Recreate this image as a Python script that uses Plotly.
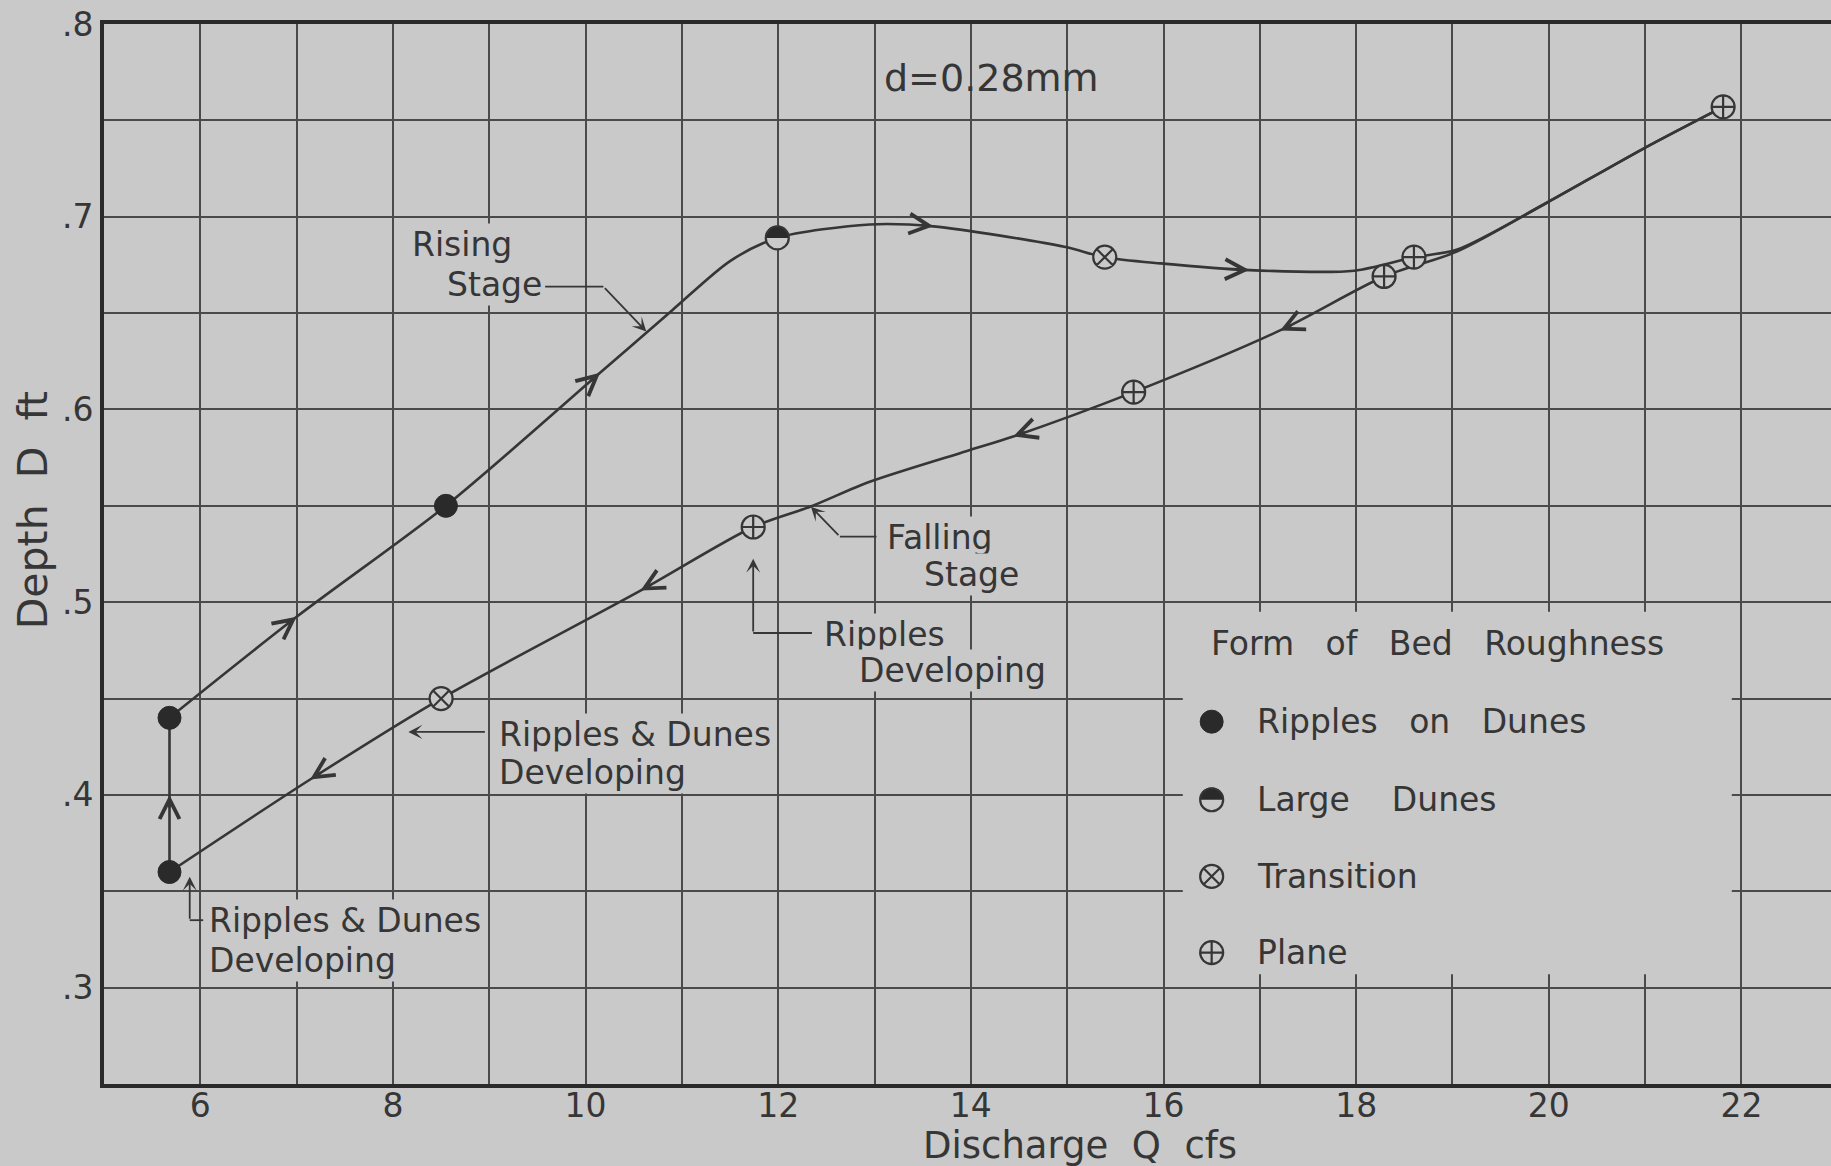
import math
import plotly.graph_objects as go

# ---------------- data ----------------
# Rising stage: vertical jump at the start, then the smooth rising curve
VERT_Q = [5.68, 5.68, 5.68]
VERT_D = [0.36, 0.40, 0.44]

RISE_Q = [5.68, 7.00, 8.55, 10.15, 10.90, 11.50, 11.99, 12.95, 13.61,
          14.97, 15.39, 15.97, 16.89, 17.98, 18.60, 19.05, 19.97, 20.97, 21.81]
RISE_D = [0.44, 0.4924, 0.55, 0.619, 0.6515, 0.677, 0.689, 0.696, 0.695,
          0.6844, 0.679, 0.6758, 0.6723, 0.672, 0.679, 0.683, 0.707, 0.735, 0.757]

# Falling stage (from the peak back to the start)
FALL_Q = [21.81, 20.97, 19.97, 19.05, 18.29, 17.21, 15.69, 14.44, 13.96, 12.95,
          12.33, 11.74, 10.57, 8.50, 7.14, 5.68]
FALL_D = [0.757, 0.735, 0.707, 0.682, 0.669, 0.641, 0.609, 0.586, 0.5785, 0.5625,
          0.5495, 0.539, 0.506, 0.45, 0.408, 0.36]

# indices of the points that carry a direction arrow
VERT_ARROWS = [1]
RISE_ARROWS = [1, 3, 8, 12]
FALL_ARROWS = [5, 7, 12, 14]

# bed-form observations
RIPPLES_ON_DUNES_Q = [5.68, 5.68, 8.55]
RIPPLES_ON_DUNES_D = [0.36, 0.44, 0.55]
LARGE_DUNES_Q = [11.99]
LARGE_DUNES_D = [0.689]
TRANSITION_Q = [8.50, 15.39]
TRANSITION_D = [0.45, 0.679]
PLANE_Q = [11.74, 15.69, 18.29, 18.60, 21.81]
PLANE_D = [0.539, 0.609, 0.669, 0.679, 0.757]

X_TICKS = [6, 8, 10, 12, 14, 16, 18, 20, 22]
Y_TICKS = [0.3, 0.4, 0.5, 0.6, 0.7, 0.8]
Y_TICK_TEXT = [".3", ".4", ".5", ".6", ".7", ".8"]

LEGEND_LABELS = ["Ripples\u00a0\u00a0\u00a0on\u00a0\u00a0\u00a0Dunes",
                 "Large\u00a0\u00a0\u00a0\u00a0Dunes",
                 "Transition",
                 "Plane"]

# ---------------- style / layout ----------------
W, H = 1831, 1166
ML, MT, MB, MR = 104, 24, 82, 0
X_RANGE = [5, 22.93]
Y_RANGE = [0.25, 0.8]
PXX = (W - ML - MR) / (X_RANGE[1] - X_RANGE[0])   # pixels per x unit
PXY = (H - MT - MB) / (Y_RANGE[1] - Y_RANGE[0])   # pixels per y unit

BG = "#c9c9c9"
INK = "#363636"
GRID = "#4a4a4a"
FONT = "DejaVu Sans"
FS = 33
MS = 23          # marker size
LW = 2.6         # curve width

# legend block placement (x, y in data units)
LEG_SYM_X = 16.50
LEG_TEXT_X = 16.95
LEG_ROWS_Y = [0.438, 0.3975, 0.3577, 0.3182]
LEG_TITLE_Y = 0.4785

fig = go.Figure()

fig.add_trace(go.Scatter(x=VERT_Q, y=VERT_D, mode="lines",
                         line=dict(color=INK, width=LW),
                         hoverinfo="skip", showlegend=False))
fig.add_trace(go.Scatter(x=RISE_Q, y=RISE_D, mode="lines",
                         line=dict(color=INK, width=LW, shape="spline", smoothing=0.8),
                         hoverinfo="skip", showlegend=False))
fig.add_trace(go.Scatter(x=FALL_Q, y=FALL_D, mode="lines",
                         line=dict(color=INK, width=LW, shape="spline", smoothing=0.8),
                         hoverinfo="skip", showlegend=False))


def half_filled(cx_list, cy_list):
    # background-filled circle with dark outline, upper half blackened
    fig.add_trace(go.Scatter(x=cx_list, y=cy_list, mode="markers",
                             marker=dict(symbol="circle", size=MS, color=BG,
                                         line=dict(color=INK, width=2.2)),
                             hoverinfo="skip", showlegend=False))
    r = MS / 2.0
    for cx, cy in zip(cx_list, cy_list):
        px, py = [], []
        for k in range(0, 41):
            t = math.pi * k / 40
            px.append(cx + r * math.cos(t) / PXX)
            py.append(cy + r * math.sin(t) / PXY)
        fig.add_trace(go.Scatter(x=px, y=py, mode="lines", fill="toself",
                                 fillcolor="#2a2a2a", line=dict(color=INK, width=1.5),
                                 hoverinfo="skip", showlegend=False))


def solid(xs, ys):
    fig.add_trace(go.Scatter(x=xs, y=ys, mode="markers",
                             marker=dict(symbol="circle", size=MS, color="#2a2a2a",
                                         line=dict(color="#2a2a2a", width=1)),
                             hoverinfo="skip", showlegend=False))


def crossed(xs, ys, sym):
    fig.add_trace(go.Scatter(x=xs, y=ys, mode="markers",
                             marker=dict(symbol=sym, size=MS, color=BG,
                                         line=dict(color=INK, width=2.2)),
                             hoverinfo="skip", showlegend=False))


solid(RIPPLES_ON_DUNES_Q, RIPPLES_ON_DUNES_D)
half_filled(LARGE_DUNES_Q, LARGE_DUNES_D)
crossed(TRANSITION_Q, TRANSITION_D, "circle-x")
crossed(PLANE_Q, PLANE_D, "circle-cross")

# legend symbols
solid([LEG_SYM_X], [LEG_ROWS_Y[0]])
half_filled([LEG_SYM_X], [LEG_ROWS_Y[1]])
crossed([LEG_SYM_X], [LEG_ROWS_Y[2]], "circle-x")
crossed([LEG_SYM_X], [LEG_ROWS_Y[3]], "circle-cross")

annotations = []


def flow_arrows(qs, ds, idxs):
    # open chevrons pointing along the direction of travel
    for i in idxs:
        dx = (qs[i + 1] - qs[i - 1]) * PXX
        dy = -(ds[i + 1] - ds[i - 1]) * PXY
        n = math.hypot(dx, dy)
        ux, uy = dx / n, dy / n
        L = 14
        annotations.append(dict(x=qs[i], y=ds[i], xref="x", yref="y",
                                ax=-ux * L, ay=-uy * L, text="", showarrow=True,
                                arrowhead=5, arrowsize=1.5, arrowwidth=2.6,
                                arrowcolor=INK))


flow_arrows(VERT_Q, VERT_D, VERT_ARROWS)
flow_arrows(RISE_Q, RISE_D, RISE_ARROWS)
flow_arrows(FALL_Q, FALL_D, FALL_ARROWS)


def label(x, y, text, size=FS, bg=BG):
    annotations.append(dict(x=x, y=y, xref="x", yref="y", text=text, showarrow=False,
                            xanchor="left", yanchor="middle", bgcolor=bg, borderpad=1,
                            font=dict(family=FONT, size=size, color=INK)))


label(8.18, 0.6858, "Rising")
label(8.54, 0.6650, "Stage")
label(13.11, 0.5338, "Falling")
label(13.49, 0.5146, "Stage")
label(12.45, 0.4834, "Ripples")
label(12.82, 0.4644, "Developing")
label(9.08, 0.4316, "Ripples\u00a0&\u00a0Dunes")
label(9.08, 0.4118, "Developing")
label(6.07, 0.3347, "Ripples\u00a0&\u00a0Dunes")
label(6.07, 0.3139, "Developing")

# legend text
label(16.47, LEG_TITLE_Y, "Form\u00a0\u00a0\u00a0of\u00a0\u00a0\u00a0Bed\u00a0\u00a0\u00a0Roughness", bg=None)
for yy, t in zip(LEG_ROWS_Y, LEGEND_LABELS):
    label(LEG_TEXT_X, yy, t, bg=None)

shapes = []


def leader(pts, tip):
    if len(pts) > 1:
        path = "M " + " L ".join(f"{p[0]},{p[1]}" for p in pts)
        shapes.append(dict(type="path", path=path, xref="x", yref="y",
                           line=dict(color=INK, width=1.8), layer="above"))
    tail = pts[-1]
    annotations.append(dict(x=tip[0], y=tip[1], ax=tail[0], ay=tail[1],
                            xref="x", yref="y", axref="x", ayref="y", text="",
                            showarrow=True, arrowhead=3, arrowsize=1.3,
                            arrowwidth=1.8, arrowcolor=INK))


leader([(9.58, 0.6637), (10.185, 0.6637)], (10.63, 0.6405))
leader([(13.02, 0.534), (12.64, 0.534)], (12.34, 0.5495))
leader([(12.35, 0.484), (11.74, 0.484)], (11.74, 0.5225))
leader([(8.97, 0.4327)], (8.16, 0.4327))
leader([(6.03, 0.335), (5.89, 0.335)], (5.89, 0.3575))

# blank panel behind the legend (interrupts the grid)
shapes.append(dict(type="rect", xref="x", yref="y", x0=16.2, x1=21.9, y0=0.307,
                   y1=0.495, fillcolor=BG, line=dict(width=0), layer="between"))

# title and axis titles
annotations.append(dict(x=0.514, y=0.949, xref="paper", yref="paper",
                        text="d=0.28mm", showarrow=False, xanchor="center",
                        yanchor="middle", font=dict(family=FONT, size=38, color=INK)))
annotations.append(dict(x=0.565, y=-0.058, xref="paper", yref="paper",
                        text="Discharge\u00a0\u00a0Q\u00a0\u00a0cfs", showarrow=False,
                        xanchor="center", yanchor="middle",
                        font=dict(family=FONT, size=37, color=INK)))
annotations.append(dict(x=-0.041, y=0.5415, xref="paper", yref="paper",
                        text="Depth\u00a0\u00a0D\u00a0\u00a0ft", showarrow=False,
                        textangle=-90, xanchor="center", yanchor="middle",
                        font=dict(family=FONT, size=41, color=INK)))

fig.update_layout(
    width=W, height=H,
    margin=dict(l=ML, r=MR, t=MT, b=MB),
    paper_bgcolor=BG, plot_bgcolor=BG,
    font=dict(family=FONT, size=FS, color=INK),
    showlegend=False,
    annotations=annotations,
    shapes=shapes,
    xaxis=dict(range=X_RANGE, tickmode="array", tickvals=X_TICKS,
               ticktext=[str(v) for v in X_TICKS], ticks="", ticklabelstandoff=-11,
               showgrid=True, gridcolor=GRID, gridwidth=1.6,
               minor=dict(tickmode="linear", tick0=5, dtick=1, showgrid=True,
                          gridcolor=GRID, gridwidth=1.6),
               showline=True, linecolor="#2a2a2a", linewidth=4, mirror=True,
               zeroline=False, tickfont=dict(family=FONT, size=FS, color=INK)),
    yaxis=dict(range=Y_RANGE, tickmode="array", tickvals=Y_TICKS,
               ticktext=Y_TICK_TEXT, ticks="",
               showgrid=True, gridcolor=GRID, gridwidth=1.6,
               minor=dict(tickmode="linear", tick0=0.25, dtick=0.05, showgrid=True,
                          gridcolor=GRID, gridwidth=1.6),
               showline=True, linecolor="#2a2a2a", linewidth=4, mirror=False,
               zeroline=False, tickfont=dict(family=FONT, size=FS, color=INK)),
)

fig.write_html(
    "out.html",
    config={"displayModeBar": False},
    post_script="document.body.style.margin='0';"
                "document.body.style.background='" + BG + "';",
)
